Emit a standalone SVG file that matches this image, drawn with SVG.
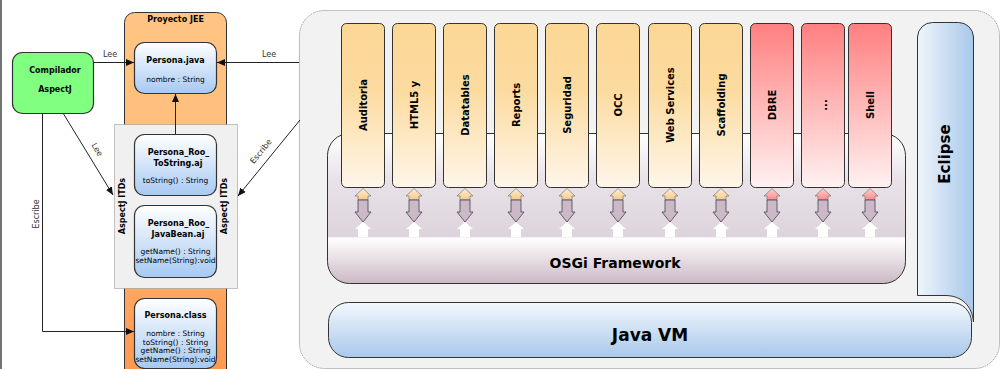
<svg xmlns="http://www.w3.org/2000/svg" width="1002" height="369" viewBox="0 0 1002 369">
<style>
text{font-family:"DejaVu Sans","Liberation Sans",sans-serif;fill:#000}
.b{font-weight:bold}
.t8{font-size:8px}
.t7{font-size:7.5px}
.col{font-size:10px;font-weight:bold}
.lbl{font-size:8px;fill:#333}
.node{stroke:#333;stroke-width:1.2}
.conn{fill:none;stroke:#222;stroke-width:1}
.dn{fill:#cbb9c9;stroke:#444;stroke-width:0.8}
.upo{fill:url(#gUpO);stroke:#777;stroke-width:0.7}
.upr{fill:url(#gUpR);stroke:#777;stroke-width:0.7}
.wu{fill:#fff}
</style>
<defs>
<linearGradient id="gBlue" x1="0" y1="0" x2="0" y2="1"><stop offset="0" stop-color="#ffffff"/><stop offset="1" stop-color="#a6c9f2"/></linearGradient>
<linearGradient id="gJee" x1="0" y1="0" x2="0" y2="1"><stop offset="0" stop-color="#ffc584"/><stop offset="0.35" stop-color="#ffbd7b"/><stop offset="1" stop-color="#ff964c"/></linearGradient>
<linearGradient id="gOr" x1="0" y1="0" x2="0" y2="1"><stop offset="0" stop-color="#fcd796"/><stop offset="0.4" stop-color="#fcdb9f"/><stop offset="1" stop-color="#fef6ea"/></linearGradient>
<linearGradient id="gRed" x1="0" y1="0" x2="0" y2="1"><stop offset="0" stop-color="#ff7f7f"/><stop offset="1" stop-color="#fff2f2"/></linearGradient>
<linearGradient id="gOsgi" x1="0" y1="0" x2="0" y2="1"><stop offset="0" stop-color="#ffffff"/><stop offset="0.3" stop-color="#e9e3e9"/><stop offset="0.69" stop-color="#ddd3dc"/><stop offset="0.695" stop-color="#ffffff"/><stop offset="1" stop-color="#cbb9c5"/></linearGradient>
<linearGradient id="gJvm" x1="0" y1="0" x2="0" y2="1"><stop offset="0" stop-color="#f3f8fd"/><stop offset="1" stop-color="#a8c8ea"/></linearGradient>
<linearGradient id="gEcl" x1="0" y1="0" x2="1" y2="0"><stop offset="0" stop-color="#eff5fc"/><stop offset="1" stop-color="#a8c8ea"/></linearGradient>
<linearGradient id="gUpO" x1="0" y1="0" x2="0" y2="1"><stop offset="0" stop-color="#fef0d8"/><stop offset="1" stop-color="#f8c784"/></linearGradient>
<linearGradient id="gUpR" x1="0" y1="0" x2="0" y2="1"><stop offset="0" stop-color="#ffd0d0"/><stop offset="1" stop-color="#ff8a8a"/></linearGradient>
<marker id="ah" markerWidth="9" markerHeight="7" refX="8" refY="3.5" orient="auto" markerUnits="userSpaceOnUse"><path d="M0,0 L8,3.5 L0,7 z" fill="#111"/></marker>
</defs>

<line x1="1" y1="0" x2="1" y2="369" stroke="#444" stroke-width="1.5"/>

<!-- Right platform container -->
<g id="platform">
<rect x="299.5" y="10.5" width="700" height="358" rx="25" fill="#f2f2f2" stroke="#888" stroke-dasharray="1,1"/>
</g>

<g id="osgi">
<rect x="327.5" y="133.5" width="578" height="150" rx="22" fill="url(#gOsgi)" stroke="#333"/>
<text x="615" y="268" class="b" font-size="14" text-anchor="middle">OSGi Framework</text>
</g>

<g id="eclipse">
<path d="M917.5,37 A15,15 0 0 1 932.5,22.5 L958.5,22.5 A15,15 0 0 1 973.5,37 L973.5,322 C972,306 962,295.5 945,295.5 L917.5,295.5 Z" fill="url(#gEcl)" stroke="#333"/>
<text transform="translate(950,154) rotate(-90)" class="b" font-size="15" text-anchor="middle">Eclipse</text>
</g>

<g id="javavm">
<rect x="328.5" y="302.5" width="643" height="55" rx="20" fill="url(#gJvm)" stroke="#333"/>
<text x="650" y="341" class="b" font-size="17" text-anchor="middle">Java VM</text>
</g>

<g id="modules">
<g id="m-auditoria"><rect x="341.5" y="23.5" width="43" height="164" rx="5" fill="url(#gOr)" stroke="#333"/><text transform="translate(366.5,105) rotate(-90)" class="col" text-anchor="middle">Auditoria</text></g>
<g id="m-html5"><rect x="392.5" y="23.5" width="43" height="164" rx="5" fill="url(#gOr)" stroke="#333"/><text transform="translate(417.5,105) rotate(-90)" class="col" text-anchor="middle">HTML5 y</text></g>
<g id="m-datatables"><rect x="443.5" y="23.5" width="43" height="164" rx="5" fill="url(#gOr)" stroke="#333"/><text transform="translate(468.5,105) rotate(-90)" class="col" text-anchor="middle">Datatables</text></g>
<g id="m-reports"><rect x="494.5" y="23.5" width="43" height="164" rx="5" fill="url(#gOr)" stroke="#333"/><text transform="translate(519.5,105) rotate(-90)" class="col" text-anchor="middle">Reports</text></g>
<g id="m-seguridad"><rect x="545.5" y="23.5" width="43" height="164" rx="5" fill="url(#gOr)" stroke="#333"/><text transform="translate(570.5,105) rotate(-90)" class="col" text-anchor="middle">Seguridad</text></g>
<g id="m-occ"><rect x="596.5" y="23.5" width="43" height="164" rx="5" fill="url(#gOr)" stroke="#333"/><text transform="translate(621.5,105) rotate(-90)" class="col" text-anchor="middle">OCC</text></g>
<g id="m-ws"><rect x="648.5" y="23.5" width="43" height="164" rx="5" fill="url(#gOr)" stroke="#333"/><text transform="translate(673.5,105) rotate(-90)" class="col" text-anchor="middle">Web Services</text></g>
<g id="m-scaff"><rect x="699.5" y="23.5" width="43" height="164" rx="5" fill="url(#gOr)" stroke="#333"/><text transform="translate(724.5,105) rotate(-90)" class="col" text-anchor="middle">Scaffolding</text></g>
<g id="m-dbre"><rect x="750.5" y="23.5" width="43" height="164" rx="5" fill="url(#gRed)" stroke="#333"/><text transform="translate(775.5,105) rotate(-90)" class="col" text-anchor="middle">DBRE</text></g>
<g id="m-dots"><rect x="801.5" y="23.5" width="43" height="164" rx="5" fill="url(#gRed)" stroke="#333"/><text transform="translate(826.5,105) rotate(-90)" class="col" text-anchor="middle">...</text></g>
<g id="m-shell"><rect x="848.5" y="23.5" width="43" height="164" rx="5" fill="url(#gRed)" stroke="#333"/><text transform="translate(873.5,105) rotate(-90)" class="col" text-anchor="middle">Shell</text></g>
</g>

<g id="bus-arrows">
<g transform="translate(363,0)"><path class="upo" d="M0,188.5 L-8,196 L-5,196 L-5,200 L5,200 L5,196 L8,196 Z"/><path class="dn" d="M-5,200 L-5,212 L-8,212 L0,222 L8,212 L5,212 L5,200 Z"/><path class="wu" d="M0,222 L-8,229 L-5,229 L-5,237 L5,237 L5,229 L8,229 Z"/></g>
<g transform="translate(414,0)"><path class="upo" d="M0,188.5 L-8,196 L-5,196 L-5,200 L5,200 L5,196 L8,196 Z"/><path class="dn" d="M-5,200 L-5,212 L-8,212 L0,222 L8,212 L5,212 L5,200 Z"/><path class="wu" d="M0,222 L-8,229 L-5,229 L-5,237 L5,237 L5,229 L8,229 Z"/></g>
<g transform="translate(465,0)"><path class="upo" d="M0,188.5 L-8,196 L-5,196 L-5,200 L5,200 L5,196 L8,196 Z"/><path class="dn" d="M-5,200 L-5,212 L-8,212 L0,222 L8,212 L5,212 L5,200 Z"/><path class="wu" d="M0,222 L-8,229 L-5,229 L-5,237 L5,237 L5,229 L8,229 Z"/></g>
<g transform="translate(516,0)"><path class="upo" d="M0,188.5 L-8,196 L-5,196 L-5,200 L5,200 L5,196 L8,196 Z"/><path class="dn" d="M-5,200 L-5,212 L-8,212 L0,222 L8,212 L5,212 L5,200 Z"/><path class="wu" d="M0,222 L-8,229 L-5,229 L-5,237 L5,237 L5,229 L8,229 Z"/></g>
<g transform="translate(567,0)"><path class="upo" d="M0,188.5 L-8,196 L-5,196 L-5,200 L5,200 L5,196 L8,196 Z"/><path class="dn" d="M-5,200 L-5,212 L-8,212 L0,222 L8,212 L5,212 L5,200 Z"/><path class="wu" d="M0,222 L-8,229 L-5,229 L-5,237 L5,237 L5,229 L8,229 Z"/></g>
<g transform="translate(618,0)"><path class="upo" d="M0,188.5 L-8,196 L-5,196 L-5,200 L5,200 L5,196 L8,196 Z"/><path class="dn" d="M-5,200 L-5,212 L-8,212 L0,222 L8,212 L5,212 L5,200 Z"/><path class="wu" d="M0,222 L-8,229 L-5,229 L-5,237 L5,237 L5,229 L8,229 Z"/></g>
<g transform="translate(670,0)"><path class="upo" d="M0,188.5 L-8,196 L-5,196 L-5,200 L5,200 L5,196 L8,196 Z"/><path class="dn" d="M-5,200 L-5,212 L-8,212 L0,222 L8,212 L5,212 L5,200 Z"/><path class="wu" d="M0,222 L-8,229 L-5,229 L-5,237 L5,237 L5,229 L8,229 Z"/></g>
<g transform="translate(721,0)"><path class="upo" d="M0,188.5 L-8,196 L-5,196 L-5,200 L5,200 L5,196 L8,196 Z"/><path class="dn" d="M-5,200 L-5,212 L-8,212 L0,222 L8,212 L5,212 L5,200 Z"/><path class="wu" d="M0,222 L-8,229 L-5,229 L-5,237 L5,237 L5,229 L8,229 Z"/></g>
<g transform="translate(772,0)"><path class="upr" d="M0,188.5 L-8,196 L-5,196 L-5,200 L5,200 L5,196 L8,196 Z"/><path class="dn" d="M-5,200 L-5,212 L-8,212 L0,222 L8,212 L5,212 L5,200 Z"/><path class="wu" d="M0,222 L-8,229 L-5,229 L-5,237 L5,237 L5,229 L8,229 Z"/></g>
<g transform="translate(823,0)"><path class="upr" d="M0,188.5 L-8,196 L-5,196 L-5,200 L5,200 L5,196 L8,196 Z"/><path class="dn" d="M-5,200 L-5,212 L-8,212 L0,222 L8,212 L5,212 L5,200 Z"/><path class="wu" d="M0,222 L-8,229 L-5,229 L-5,237 L5,237 L5,229 L8,229 Z"/></g>
<g transform="translate(870,0)"><path class="upr" d="M0,188.5 L-8,196 L-5,196 L-5,200 L5,200 L5,196 L8,196 Z"/><path class="dn" d="M-5,200 L-5,212 L-8,212 L0,222 L8,212 L5,212 L5,200 Z"/><path class="wu" d="M0,222 L-8,229 L-5,229 L-5,237 L5,237 L5,229 L8,229 Z"/></g>
</g>

<!-- Left side -->
<g id="proyecto-jee">
<rect x="124.5" y="12.5" width="102" height="380" rx="10" fill="url(#gJee)" stroke="#333"/>
<text x="175.5" y="22" class="b t8" text-anchor="middle">Proyecto JEE</text>
</g>

<g id="itds">
<rect x="114.5" y="124.5" width="123" height="164" fill="#f0f0f0" stroke="#888" stroke-dasharray="1,1"/>
<text transform="translate(124.5,206) rotate(-90)" class="b t8" text-anchor="middle">AspectJ ITDs</text>
<text transform="translate(226.5,206) rotate(-90)" class="b t8" text-anchor="middle">AspectJ ITDs</text>
</g>

<g id="compilador">
<rect x="12.5" y="52.5" width="81" height="61" rx="10" fill="#80ff80" class="node"/>
<text x="55" y="73" class="b t8" text-anchor="middle">Compilador</text>
<text x="55" y="92" class="b t8" text-anchor="middle">AspectJ</text>
</g>

<g id="persona-java">
<rect x="134.5" y="42.5" width="82" height="51" rx="10" fill="url(#gBlue)" class="node"/>
<text x="175.5" y="63" class="b t8" text-anchor="middle">Persona.java</text>
<text x="175.5" y="82" class="t7" text-anchor="middle">nombre : String</text>
</g>

<g id="persona-tostring">
<rect x="134.5" y="134.5" width="82" height="61" rx="10" fill="url(#gBlue)" class="node"/>
<text x="178.5" y="155" class="b t8" text-anchor="middle">Persona_Roo_</text>
<text x="178" y="166" class="b t8" text-anchor="middle">ToString.aj</text>
<text x="175.5" y="183" class="t7" text-anchor="middle">toString() : String</text>
</g>

<g id="persona-javabean">
<rect x="134.5" y="205.5" width="82" height="72" rx="10" fill="url(#gBlue)" class="node"/>
<text x="178.5" y="226" class="b t8" text-anchor="middle">Persona_Roo_</text>
<text x="178" y="237" class="b t8" text-anchor="middle">JavaBean.aj</text>
<text x="175.5" y="254" class="t7" text-anchor="middle">getName() : String</text>
<text x="175.5" y="263" class="t7" text-anchor="middle">setName(String):void</text>
</g>

<g id="persona-class">
<rect x="134.5" y="298.5" width="82" height="70" rx="10" fill="url(#gBlue)" class="node"/>
<text x="175.5" y="318" class="b t8" text-anchor="middle">Persona.class</text>
<text x="175.5" y="336" class="t7" text-anchor="middle">nombre : String</text>
<text x="175.5" y="345" class="t7" text-anchor="middle">toString() : String</text>
<text x="175.5" y="353" class="t7" text-anchor="middle">getName() : String</text>
<text x="175.5" y="362" class="t7" text-anchor="middle">setName(String):void</text>
</g>

<g id="connectors">
<path class="conn" d="M93,62.5 H134" marker-end="url(#ah)"/>
<text x="110" y="57" class="lbl" text-anchor="middle">Lee</text>
<path class="conn" d="M299,62.5 H217" stroke-width="1.5" marker-end="url(#ah)"/>
<text x="269" y="57" class="lbl" text-anchor="middle">Lee</text>
<path class="conn" d="M175.5,134 V94" marker-end="url(#ah)"/>
<path class="conn" d="M63,113 L113,195" marker-end="url(#ah)"/>
<text transform="translate(95,151) rotate(59)" class="lbl" text-anchor="middle">Lee</text>
<path class="conn" d="M300,120 L238,196" marker-end="url(#ah)"/>
<text transform="translate(263,153) rotate(-51)" class="lbl" text-anchor="middle">Escribe</text>
<path class="conn" d="M42.5,113 V331.5 H134" marker-end="url(#ah)"/>
<text transform="translate(39,214) rotate(-90)" class="lbl" text-anchor="middle">Escribe</text>
</g>
</svg>
